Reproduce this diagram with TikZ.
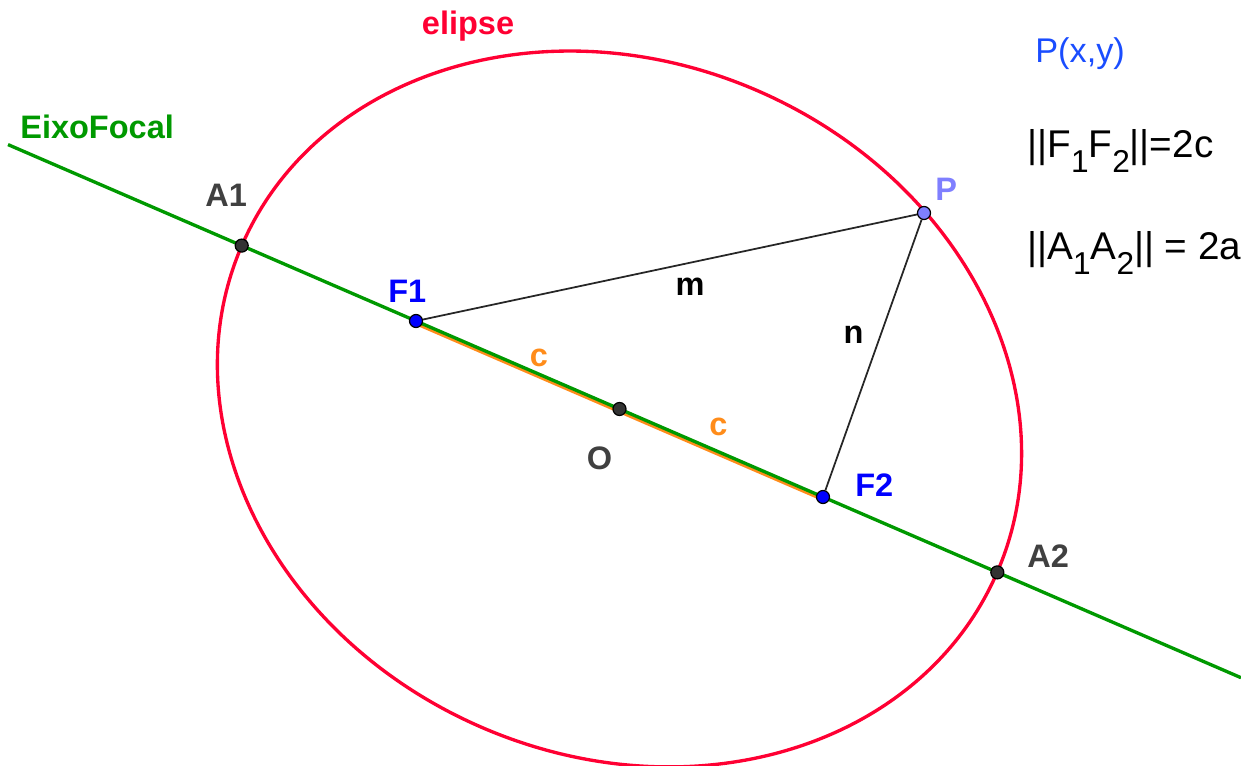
\documentclass[tikz,border=0pt]{standalone}
\usepackage{fontspec}
\setsansfont{Liberation Sans}
\usepackage{tikz}
\definecolor{eixo}{HTML}{009900}
\definecolor{elip}{HTML}{FF0033}
\definecolor{segc}{HTML}{FF8C1A}
\definecolor{foco}{HTML}{0000FF}
\definecolor{ponto}{HTML}{333333}
\definecolor{pviol}{HTML}{7F7FFF}
\definecolor{rotulo}{HTML}{404040}
\definecolor{pxy}{HTML}{1A4DFF}
\newcommand{\indice}[1]{\raisebox{-8.5pt}{\fontsize{18}{18}\selectfont #1}}

\begin{document}
\begin{tikzpicture}[x=0.02cm,y=-0.02cm,
  font=\sffamily\bfseries\fontsize{18.5}{22}\selectfont,
  dot/.style={circle,draw=black,line width=0.7pt,inner sep=0pt,minimum size=0.26cm},
  lbl/.style={inner sep=0pt,anchor=base west},
  seg/.style={line width=1pt,draw=black!85},
  eq/.style={lbl,font=\sffamily\mdseries\fontsize{22}{26}\selectfont}
]
\useasboundingbox (0,0) rectangle (1241,766);

\coordinate (E1) at (8,144.6);
\coordinate (E2) at (1241,677.7);
\coordinate (C) at (619.5,409);

% ellipse and focal axis
\draw[elip,line width=1.9pt,rotate around={-23.39:(C)}] (C) ellipse [x radius=8.232cm,y radius=6.94cm];
\path (416,321) coordinate (cF1) (823,497) coordinate (cF2);
\draw[segc,line width=2pt] ([yshift=-1.4pt]cF1) -- ([yshift=-1.4pt]cF2);
\draw[eixo,line width=1.9pt] (E1) -- (E2);

% points
\node[dot,fill=ponto] (A1) at (241.7,245.6) {};
\node[dot,fill=ponto] (A2) at (997.3,572.4) {};
\node[dot,fill=ponto] (O) at (C) {};
\node[dot,fill=foco] (F1) at (cF1) {};
\node[dot,fill=foco] (F2) at (cF2) {};
\node[dot,fill=pviol] (P) at (924,213) {};

\draw[seg] (F1) -- (P);
\draw[seg] (F2) -- (P);

% labels
\node[lbl,anchor=base,elip] (lelip) at (468,35) {elipse};
\node[lbl,eixo] (leixo) at (20,139) {EixoFocal};
\node[lbl,rotulo] (lA1) at (205,207) {A1};
\node[lbl,rotulo] (lA2) at (1027,568) {A2};
\node[lbl,anchor=base,rotulo] (lO) at (599.5,470) {O};
\node[lbl,foco] (lF1) at (388,303) {F1};
\node[lbl,foco] (lF2) at (855,497) {F2};
\node[lbl,pviol] (lP) at (935,201) {P};
\node[lbl,anchor=base,segc] (lc1) at (539,367) {c};
\node[lbl,anchor=base,segc] (lc2) at (718.5,436) {c};
\node[lbl,anchor=base] (lm) at (690,296) {m};
\node[lbl,anchor=base] (ln) at (853.5,344) {n};

\node[lbl,pxy,font=\sffamily\mdseries\fontsize{19.5}{23}\selectfont] (lpxy) at (1035,63) {P(x,y)};
\node[eq] (ldf) at (1027,158) {||F\indice{1}F\indice{2}||=2c};
\node[eq] (lda) at (1027,260) {||A\indice{1}A\indice{2}|| = 2a};
\end{tikzpicture}
\end{document}
